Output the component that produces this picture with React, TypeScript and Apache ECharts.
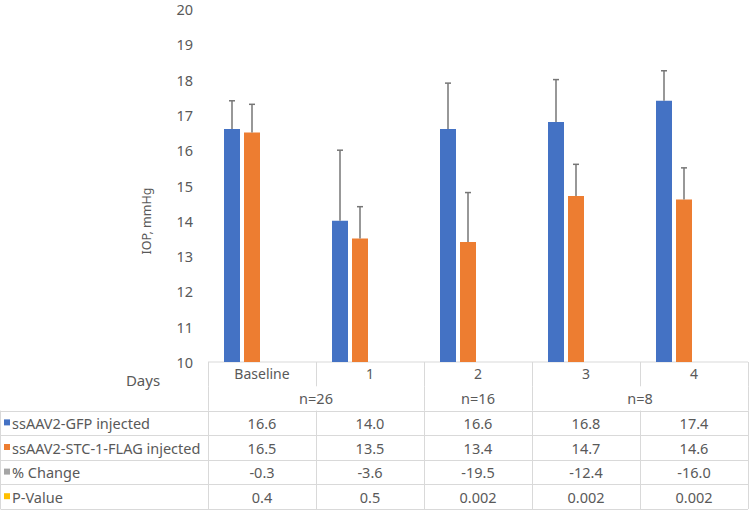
import React, { useEffect, useRef } from "react";
import * as echarts from "echarts";

const categories = ["Baseline", "1", "2", "3", "4"];
const seriesNames = ["ssAAV2-GFP injected", "ssAAV2-STC-1-FLAG injected", "% Change", "P-Value"];
const gfp = [16.6, 14.0, 16.6, 16.8, 17.4];
const stc = [16.5, 13.5, 13.4, 14.7, 14.6];
const pctChange = [-0.3, -3.6, -19.5, -12.4, -16.0];
const pValue = [0.4, 0.5, 0.002, 0.002, 0.002];
const gfpErr = [0.8, 2.0, 1.3, 1.2, 0.85];
const stcErr = [0.8, 0.9, 1.4, 0.9, 0.9];
const nLabels = ["n=26", "n=16", "n=8"];
const nSpans = [2, 1, 2];
const yTicks = { min: 10, max: 20, interval: 1 };

const colors = ["#4472C4", "#ED7D31", "#A5A5A5", "#FFC000"];
const FONT = "Noto Sans";
const TXT = "#595959";
const LINE = "#d9d9d9";
const BAR_W = 16;
const BAR_GAP_PX = 4;

export default function App() {
  const ref = useRef<HTMLDivElement>(null);
  useEffect(() => {
    document.body.style.margin = "0";
    if (!ref.current) return;
    const chart = echarts.init(ref.current, null, { renderer: "svg" });
    const errSeries = (vals: number[], errs: number[], k: number) => ({
      type: "custom",
      data: vals.map((v, i) => [i, v, errs[i]]),
      encode: { x: 0, y: 1 },
      z: 5,
      renderItem: (params: any, api: any) => {
        const idx = api.value(0);
        const base = api.coord([idx, api.value(1)]);
        const top = api.coord([idx, api.value(1) + api.value(2)]);
        const x = base[0] + (k - 1.5) * (BAR_W + BAR_GAP_PX);
        const st = { stroke: "#767676", lineWidth: 1.5 };
        return {
          type: "group",
          children: [
            { type: "line", shape: { x1: x, y1: base[1], x2: x, y2: top[1] }, style: st },
            { type: "line", shape: { x1: x - 3, y1: top[1], x2: x + 3, y2: top[1] }, style: st },
          ],
        };
      },
    });
    chart.setOption({
      animation: false,
      textStyle: { fontFamily: FONT },
      grid: { left: 208, right: 2, top: 9, height: 353 },
      xAxis: {
        type: "category",
        data: categories,
        axisLine: { show: false },
        axisTick: { show: false },
        axisLabel: { color: TXT, fontSize: 14, fontFamily: FONT, margin: 4 },
      },
      yAxis: {
        type: "value",
        min: yTicks.min,
        max: yTicks.max,
        interval: yTicks.interval,
        splitLine: { show: false },
        axisLine: { show: false },
        axisTick: { show: false },
        axisLabel: { color: TXT, fontSize: 14.5, lineHeight: 15, fontFamily: FONT, margin: 15 },
      },
      series: [
        ...[gfp, stc, pctChange, pValue].map((d, k) => ({
          type: "bar",
          name: seriesNames[k],
          data: d,
          barWidth: BAR_W,
          barGap: (BAR_GAP_PX / BAR_W) * 100 + "%",
          itemStyle: { color: colors[k] },
          clip: true,
        })),
        errSeries(gfp, gfpErr, 0),
        errSeries(stc, stcErr, 1),
      ],
    });

    // Table built from the chart's own scale
    const centers = categories.map((c, i) => chart.convertToPixel({ xAxisIndex: 0 }, i) as number);
    const band = centers[1] - centers[0];
    const bounds = [...centers.map((c) => c - band / 2), centers[centers.length - 1] + band / 2];
    const yTop = chart.convertToPixel({ yAxisIndex: 0 }, yTicks.min) as number;
    const sub = 24.3;
    const rowH = 24.6;
    const yHead2 = yTop + sub;
    const yRows = yTop + 2 * sub;
    const rows = [
      gfp.map((v) => v.toFixed(1)),
      stc.map((v) => v.toFixed(1)),
      pctChange.map((v) => v.toFixed(1)),
      pValue.map((v) => String(v)),
    ];
    const yEnd = yRows + rows.length * rowH;
    const g: any[] = [];
    const ln = (x1: number, y1: number, x2: number, y2: number) =>
      g.push({ type: "line", silent: true, shape: { x1, y1, x2, y2 }, style: { stroke: LINE, lineWidth: 1 } });
    const tx = (text: string, x: number, y: number, align = "center", size = 14) =>
      g.push({
        type: "text",
        silent: true,
        x,
        y,
        style: { text, fill: TXT, font: `${size}px '${FONT}'`, align, verticalAlign: "middle" },
      });

    const R = bounds[bounds.length - 1];
    // horizontal lines
    ln(bounds[0], yTop, R, yTop);
    for (let r = 0; r <= rows.length; r++) {
      const y = Math.round(yRows + r * rowH) + 0.5;
      ln(0.5, y, R, y);
    }
    // vertical lines
    ln(0.5, yRows, 0.5, yEnd);
    const spanBounds = new Set<number>();
    let acc = 0;
    spanBounds.add(0);
    nSpans.forEach((s) => {
      acc += s;
      spanBounds.add(acc);
    });
    bounds.forEach((b, i) => {
      const x = Math.round(b) + 0.5;
      ln(x, yTop, x, yHead2);
      if (spanBounds.has(i)) ln(x, yHead2, x, yRows);
      ln(x, yRows, x, yEnd);
    });
    // header
    tx("Days", 143, yTop + sub / 2 + 6, "center", 15);
    acc = 0;
    nLabels.forEach((t, i) => {
      const a = bounds[acc];
      acc += nSpans[i];
      const b = bounds[acc];
      tx(t, (a + b) / 2, yHead2 + sub / 2, "center", 14.5);
    });
    // rows
    rows.forEach((vals, r) => {
      const yc = yRows + r * rowH + rowH / 2;
      g.push({
        type: "rect",
        silent: true,
        shape: { x: 4, y: yc - 3.5, width: 6, height: 6 },
        style: { fill: colors[r] },
      });
      tx(seriesNames[r], 12, yc, "left", 14.5);
      vals.forEach((v, i) => tx(v, centers[i], yc, "center", 14.5));
    });
    // y-axis title
    g.push({
      type: "text",
      silent: true,
      x: 146,
      y: 221,
      rotation: Math.PI / 2,
      style: { text: "IOP, mmHg", fill: TXT, font: `12.5px '${FONT}'`, align: "center", verticalAlign: "middle" },
    });
    chart.setOption({ graphic: g });
    return () => chart.dispose();
  }, []);
  return <div ref={ref} style={{ width: 750, height: 511 }} />;
}
